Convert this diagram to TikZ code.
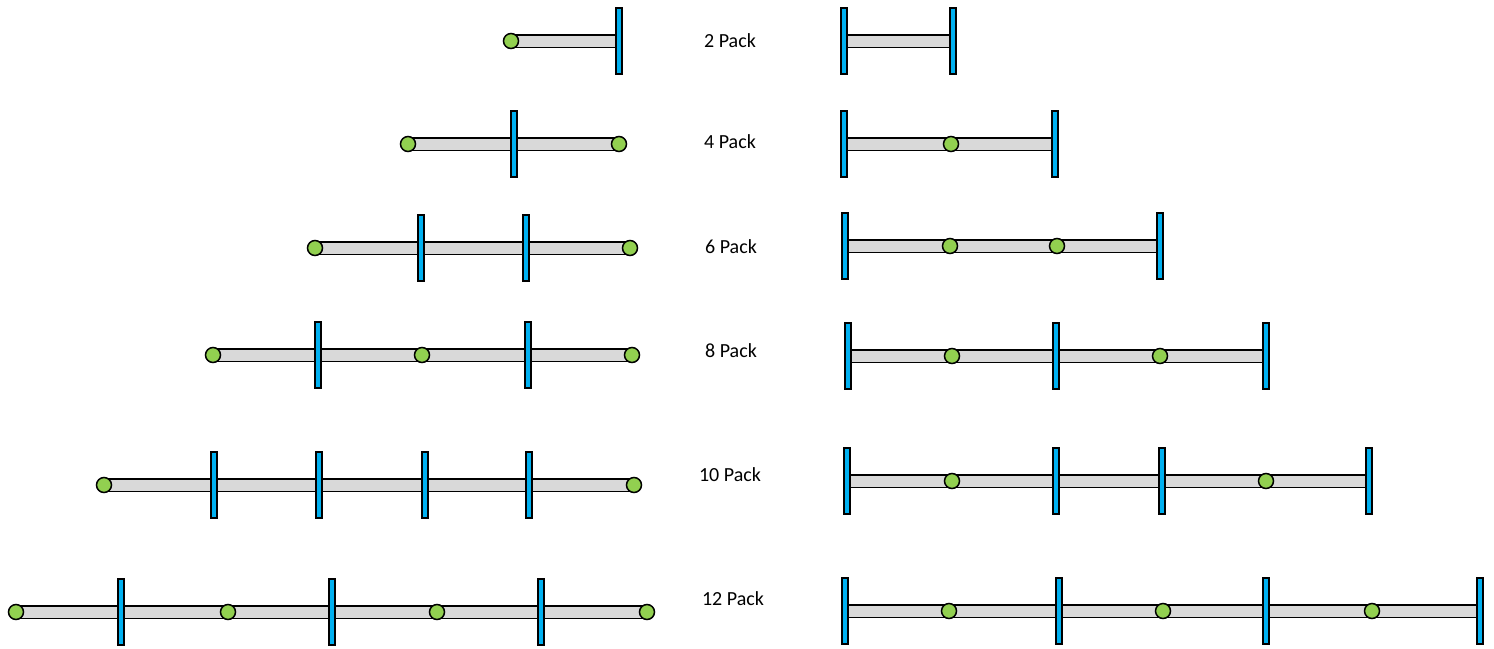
\documentclass[tikz,border=0pt]{standalone}
\usepackage{fontspec}
\setmainfont{Carlito}
\usepackage{tikz}
\usetikzlibrary{backgrounds}
\definecolor{rodgray}{HTML}{D9D9D9}
\definecolor{tabblue}{HTML}{00B0F0}
\definecolor{pingreen}{HTML}{92D050}

\begin{document}
\begin{tikzpicture}[x=1pt, y=-1pt,
    rod/.style={draw=black, line width=1.5pt, double=rodgray, double distance=11pt},
    tab/.style={draw=black, fill=tabblue, line width=1.5pt, minimum width=6pt, minimum height=66pt, inner sep=0pt},
    pin/.style={circle, draw=black, fill=pingreen, line width=1.5pt, minimum size=15pt, inner sep=0pt},
    lbl/.style={font=\fontsize{20}{24}\selectfont}]
    \useasboundingbox (0,0) rectangle (1494,648);

    % 2 Pack
    \foreach \k/\x [count=\i] in {pin/511, tab/619}
        \node[\k] (L1-\i) at (\x,41) {};
    \foreach \k/\x [count=\i] in {tab/844, tab/953}
        \node[\k] (R1-\i) at (\x,41) {};
    \node[lbl] (P1) at (730,41) {2 Pack};

    % 4 Pack
    \foreach \k/\x [count=\i] in {pin/408, tab/514, pin/619}
        \node[\k] (L2-\i) at (\x,144) {};
    \foreach \k/\x [count=\i] in {tab/844, pin/951, tab/1055}
        \node[\k] (R2-\i) at (\x,144) {};
    \node[lbl] (P2) at (730,142) {4 Pack};

    % 6 Pack
    \foreach \k/\x [count=\i] in {pin/315, tab/421, tab/526, pin/630}
        \node[\k] (L3-\i) at (\x,248) {};
    \foreach \k/\x [count=\i] in {tab/845, pin/950, pin/1057, tab/1160}
        \node[\k] (R3-\i) at (\x,246) {};
    \node[lbl] (P3) at (731,247) {6 Pack};

    % 8 Pack
    \foreach \k/\x [count=\i] in {pin/213, tab/318, pin/422, tab/528, pin/632}
        \node[\k] (L4-\i) at (\x,355) {};
    \foreach \k/\x [count=\i] in {tab/848, pin/952, tab/1056, pin/1160, tab/1266}
        \node[\k] (R4-\i) at (\x,356) {};
    \node[lbl] (P4) at (731,351) {8 Pack};

    % 10 Pack
    \foreach \k/\x [count=\i] in {pin/104, tab/214, tab/319, tab/425, tab/529, pin/634}
        \node[\k] (L5-\i) at (\x,485) {};
    \foreach \k/\x [count=\i] in {tab/847, pin/952, tab/1056, tab/1162, pin/1266, tab/1369}
        \node[\k] (R5-\i) at (\x,481) {};
    \node[lbl] (P5) at (730,475) {10 Pack};

    % 12 Pack
    \foreach \k/\x [count=\i] in {pin/16, tab/121, pin/228, tab/332, pin/437, tab/541, pin/647}
        \node[\k] (L6-\i) at (\x,612) {};
    \foreach \k/\x [count=\i] in {tab/845, pin/949, tab/1059, pin/1163, tab/1266, pin/1372, tab/1480}
        \node[\k] (R6-\i) at (\x,611) {};
    \node[lbl] (P6) at (733,599) {12 Pack};

    % rods behind the tabs and pins
    \begin{scope}[on background layer]
        \draw[rod] (L1-1.center) -- (L1-2.center);
        \draw[rod] (R1-1.center) -- (R1-2.center);
        \draw[rod] (L2-1.center) -- (L2-3.center);
        \draw[rod] (R2-1.center) -- (R2-3.center);
        \draw[rod] (L3-1.center) -- (L3-4.center);
        \draw[rod] (R3-1.center) -- (R3-4.center);
        \draw[rod] (L4-1.center) -- (L4-5.center);
        \draw[rod] (R4-1.center) -- (R4-5.center);
        \draw[rod] (L5-1.center) -- (L5-6.center);
        \draw[rod] (R5-1.center) -- (R5-6.center);
        \draw[rod] (L6-1.center) -- (L6-7.center);
        \draw[rod] (R6-1.center) -- (R6-7.center);
    \end{scope}

\end{tikzpicture}
\end{document}
